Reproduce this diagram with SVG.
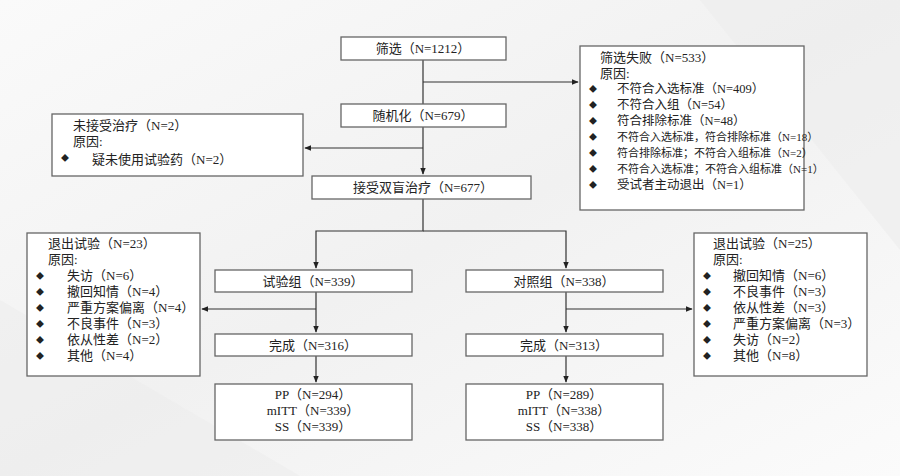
<svg xmlns="http://www.w3.org/2000/svg" width="900" height="476" viewBox="0 0 900 476">
<defs>
<marker id="ah" viewBox="0 0 10 10" refX="9" refY="5" markerWidth="6" markerHeight="6" orient="auto"><path d="M0,1 L10,5 L0,9 Z" fill="#222"/></marker>
<linearGradient id="bg" x1="0" y1="0" x2="1" y2="1"><stop offset="0" stop-color="#fafafa"/><stop offset="0.5" stop-color="#f1f1f1"/><stop offset="1" stop-color="#fbfbfb"/></linearGradient>
</defs>
<style>
rect.b{fill:#fff;stroke:#666;stroke-width:1.3}
text{font-family:"Liberation Serif","Noto Sans CJK SC",serif;font-size:13px;fill:#222}
.c{text-anchor:middle}
.d{font-size:8px}
.s{font-size:12.5px}
.t{font-size:11px}
#connectors path{fill:none;stroke:#333;stroke-width:1.2}
</style>
<rect width="900" height="476" fill="url(#bg)"/>
<polygon points="0,300 300,476 0,476" fill="#ececec" opacity="0.6"/>
<polygon points="700,0 900,0 900,250" fill="#ededed" opacity="0.6"/>
<g id="connectors">
<path d="M423,60 V104"/>
<path d="M423,82 H578" marker-end="url(#ah)"/>
<path d="M423,127 V174" marker-end="url(#ah)"/>
<path d="M423,148 H305" marker-end="url(#ah)"/>
<path d="M423,199 V231 H316 V268" marker-end="url(#ah)"/>
<path d="M423,231 H566 V268" marker-end="url(#ah)"/>
<path d="M316,292 V332" marker-end="url(#ah)"/>
<path d="M316,309 H202" marker-end="url(#ah)"/>
<path d="M316,356 V382" marker-end="url(#ah)"/>
<path d="M566,292 V332" marker-end="url(#ah)"/>
<path d="M566,309 H692" marker-end="url(#ah)"/>
<path d="M566,356 V382" marker-end="url(#ah)"/>
</g>
<g id="screen"><rect class="b" x="341" y="37" width="165" height="23"/><text class="c" x="423" y="53">筛选（N=1212）</text></g>
<g id="fail"><rect class="b" x="580" y="46" width="224" height="164"/>
<text x="600" y="62">筛选失败（N=533）</text><text x="600" y="78">原因:</text>
<text class="d" x="589" y="92">◆</text><text class="s" x="617" y="93">不符合入选标准（N=409）</text>
<text class="d" x="589" y="108">◆</text><text class="s" x="617" y="109">不符合入组（N=54）</text>
<text class="d" x="589" y="124">◆</text><text class="s" x="617" y="125">符合排除标准（N=48）</text>
<text class="d" x="589" y="140">◆</text><text class="t" x="617" y="141">不符合入选标准，符合排除标准（N=18）</text>
<text class="d" x="589" y="156">◆</text><text class="t" x="617" y="157">符合排除标准；不符合入组标准（N=2）</text>
<text class="d" x="589" y="172">◆</text><text class="t" x="617" y="173">不符合入选标准；不符合入组标准（N=1）</text>
<text class="d" x="589" y="188">◆</text><text class="s" x="617" y="189">受试者主动退出（N=1）</text>
</g>
<g id="rand"><rect class="b" x="341" y="104" width="165" height="23"/><text class="c" x="423" y="120">随机化（N=679）</text></g>
<g id="untreated"><rect class="b" x="52" y="114" width="251" height="62"/>
<text x="73" y="130">未接受治疗（N=2）</text><text x="73" y="146">原因:</text>
<text class="d" x="61" y="161">◆</text><text x="92" y="164">疑未使用试验药（N=2）</text></g>
<g id="dbt"><rect class="b" x="312" y="176" width="219" height="23"/><text class="c" x="423" y="192">接受双盲治疗（N=677）</text></g>
<g id="wdL"><rect class="b" x="27" y="233" width="173" height="143"/>
<text x="48" y="248">退出试验（N=23）</text><text x="48" y="264">原因:</text>
<text class="d" x="36" y="279">◆</text><text x="67" y="280">失访（N=6）</text>
<text class="d" x="36" y="295">◆</text><text x="67" y="296">撤回知情（N=4）</text>
<text class="d" x="36" y="311">◆</text><text x="67" y="312">严重方案偏离（N=4）</text>
<text class="d" x="36" y="327">◆</text><text x="67" y="328">不良事件（N=3）</text>
<text class="d" x="36" y="343">◆</text><text x="67" y="344">依从性差（N=2）</text>
<text class="d" x="36" y="359">◆</text><text x="67" y="360">其他（N=4）</text></g>
<g id="trial"><rect class="b" x="215" y="270" width="197" height="22"/><text class="c" x="313" y="286">试验组（N=339）</text></g>
<g id="doneL"><rect class="b" x="215" y="334" width="197" height="22"/><text class="c" x="313" y="350">完成（N=316）</text></g>
<g id="ppL"><rect class="b" x="215" y="384" width="197" height="56"/>
<text class="c" x="313" y="399">PP（N=294）</text><text class="c" x="313" y="415">mITT（N=339）</text><text class="c" x="313" y="431">SS（N=339）</text></g>
<g id="ctrl"><rect class="b" x="466" y="270" width="197" height="22"/><text class="c" x="564" y="286">对照组（N=338）</text></g>
<g id="doneR"><rect class="b" x="466" y="334" width="197" height="22"/><text class="c" x="564" y="350">完成（N=313）</text></g>
<g id="ppR"><rect class="b" x="466" y="384" width="197" height="56"/>
<text class="c" x="564" y="399">PP（N=289）</text><text class="c" x="564" y="415">mITT（N=338）</text><text class="c" x="564" y="431">SS（N=338）</text></g>
<g id="wdR"><rect class="b" x="694" y="233" width="173" height="143"/>
<text x="713" y="248">退出试验（N=25）</text><text x="713" y="264">原因:</text>
<text class="d" x="703" y="279">◆</text><text x="733" y="280">撤回知情（N=6）</text>
<text class="d" x="703" y="295">◆</text><text x="733" y="296">不良事件（N=3）</text>
<text class="d" x="703" y="311">◆</text><text x="733" y="312">依从性差（N=3）</text>
<text class="d" x="703" y="327">◆</text><text x="733" y="328">严重方案偏离（N=3）</text>
<text class="d" x="703" y="343">◆</text><text x="733" y="344">失访（N=2）</text>
<text class="d" x="703" y="359">◆</text><text x="733" y="360">其他（N=8）</text></g>
</svg>
